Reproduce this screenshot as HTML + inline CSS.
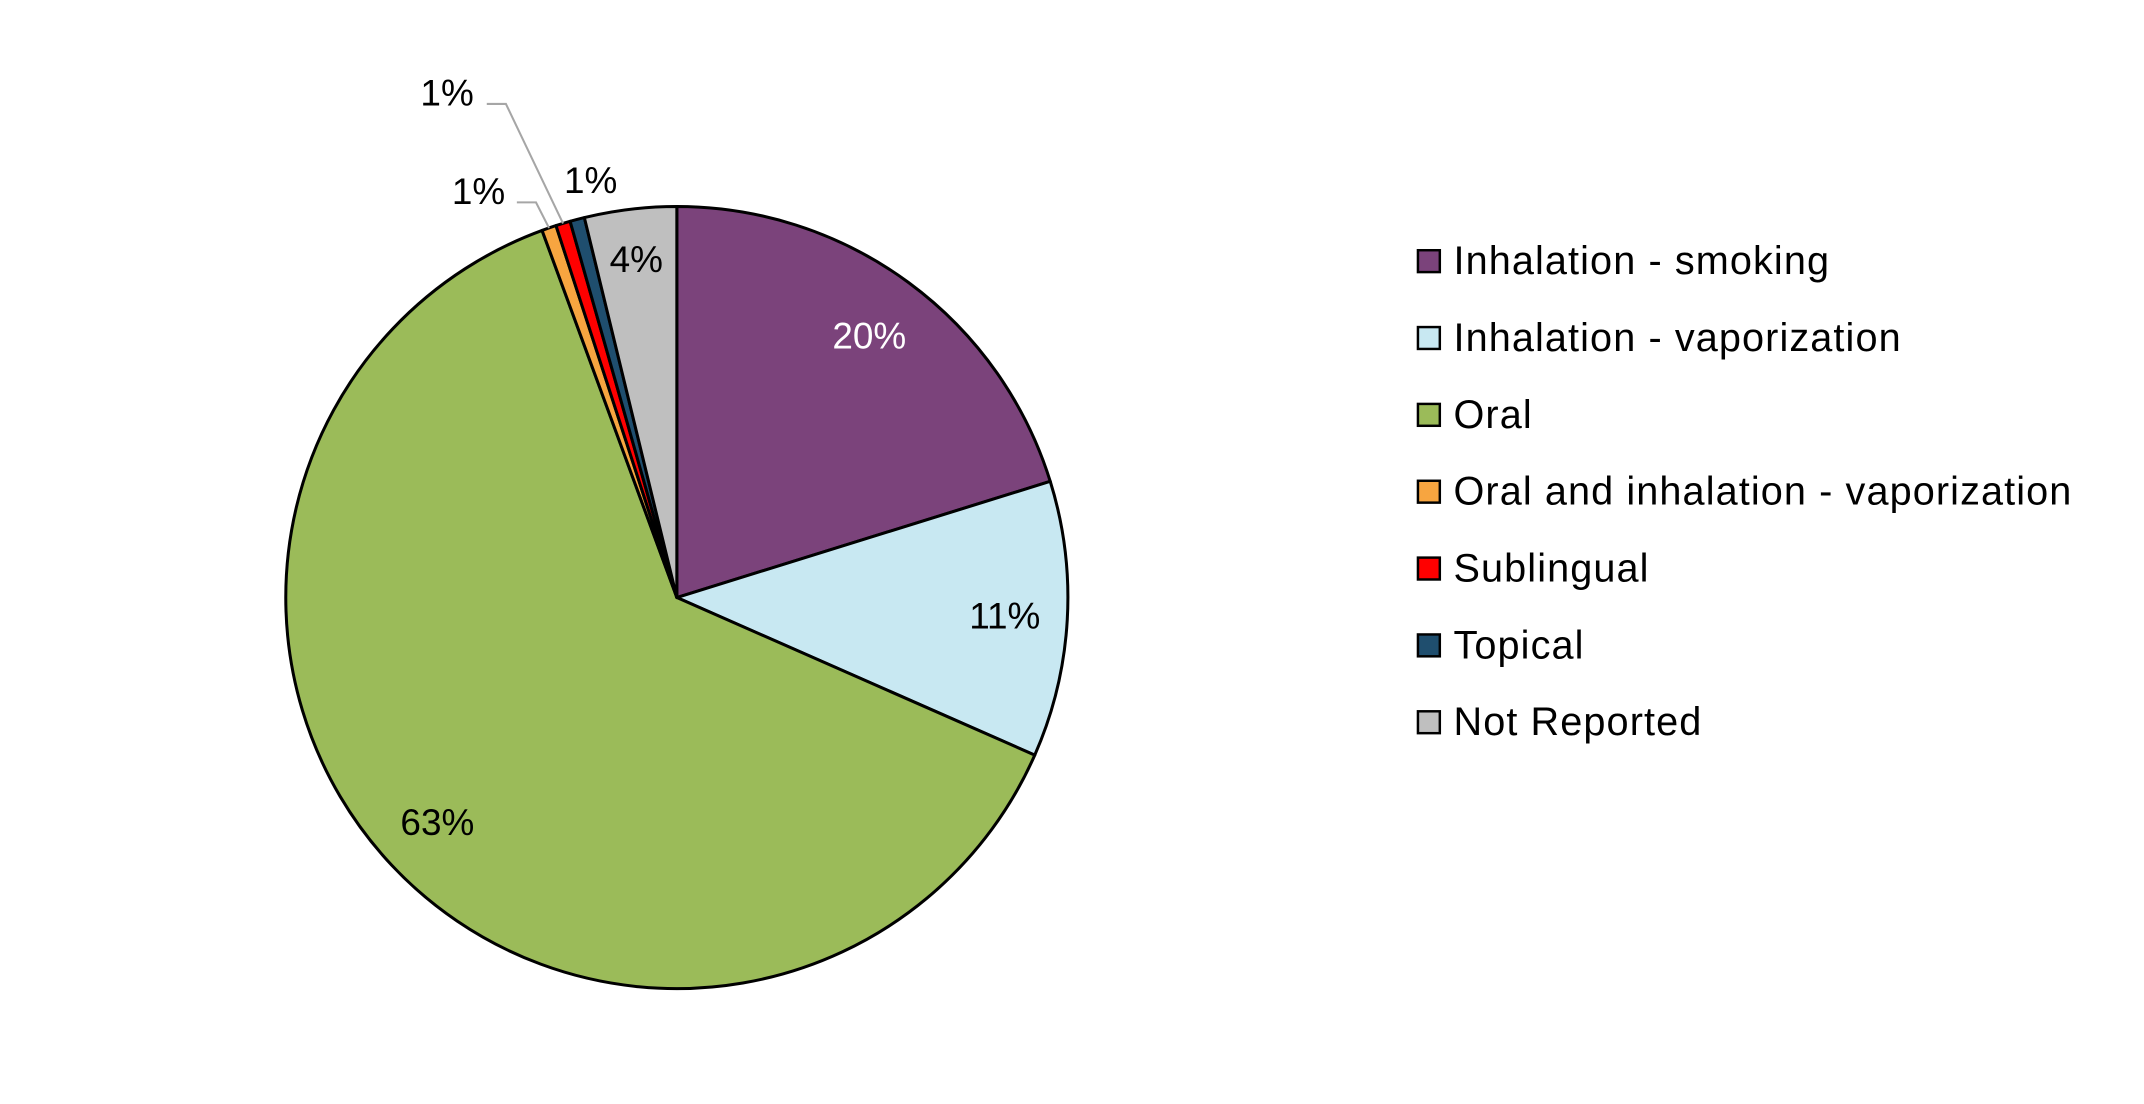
<!DOCTYPE html>
<html><head><meta charset="utf-8"><style>
html,body{margin:0;padding:0;background:#fff;}
svg{display:block;font-family:"Liberation Sans",Calibri,sans-serif;}
</style></head><body>
<svg id="chart" width="2144" height="1104" viewBox="0 0 1568 807.4" preserveAspectRatio="none" xmlns="http://www.w3.org/2000/svg">
<g id="slices"></g>
<g id="labels"></g>
<g id="legend"></g>
</svg>
<script>
const categories = ["Inhalation - smoking","Inhalation - vaporization","Oral","Oral and inhalation - vaporization","Sublingual","Topical","Not Reported"];
const values = [20.2, 11.4, 62.8, 0.6, 0.6, 0.6, 3.8];
const valueLabels = ["20%","11%","63%","1%","1%","1%","4%"];
const colors = ["#7b437b","#c8e8f2","#9bbb59","#f7a540","#ff0000","#1f4e6e","#bfbfbf"];

const NS="http://www.w3.org/2000/svg";
const cx=495, cy=437, r=286;
const total=values.reduce((a,b)=>a+b,0);
function pt(frac, rad){const a=frac*2*Math.PI; return [cx+rad*Math.sin(a), cy-rad*Math.cos(a)];}
const sg=document.getElementById('slices'), lg=document.getElementById('labels'), leg=document.getElementById('legend');
let acc=0;
const mids=[];
values.forEach((v,i)=>{
  const s=acc/total, e=(acc+v)/total; acc+=v;
  mids.push((s+e)/2);
  const p1=pt(s,r), p2=pt(e,r);
  const large=(e-s)>0.5?1:0;
  const p=document.createElementNS(NS,'path');
  p.setAttribute('d',`M${cx},${cy} L${p1[0]},${p1[1]} A${r},${r} 0 ${large} 1 ${p2[0]},${p2[1]} Z`);
  p.setAttribute('fill',colors[i]);p.setAttribute('stroke','#000');p.setAttribute('stroke-width','2.2');p.setAttribute('stroke-linejoin','round');
  
  
  sg.appendChild(p);
});
function addText(x,y,t,fill,i){
  const tx=document.createElementNS(NS,'text');
  tx.setAttribute('x',x);tx.setAttribute('y',y);tx.setAttribute('text-anchor','middle');tx.setAttribute('dominant-baseline','central');
  tx.setAttribute('font-size','27');tx.setAttribute('fill',fill);tx.textContent=t;
  
  
  lg.appendChild(tx);
}
const radF=[0.83,0.84,0.84,0,0,0,0.87];
[0,1,2,6].forEach(i=>{const p=pt(mids[i],r*radF[i]);addText(p[0],p[1],valueLabels[i],i==0?'#fff':'#000',i);});
function leader(d,i){const l=document.createElementNS(NS,'polyline');l.setAttribute('points',d);l.setAttribute('fill','none');l.setAttribute('stroke','#a6a6a6');l.setAttribute('stroke-width','1.5');
  
  
  lg.appendChild(l);}
const po=pt(mids[3],r), pr=pt(mids[4],r);
addText(350,140,valueLabels[3],'#000',3); leader(`378,148 392,148 ${po[0]},${po[1]}`,3);
addText(327,68,valueLabels[4],'#000',4); leader(`356,76 370,76 ${pr[0]},${pr[1]}`,4);
addText(432,132,valueLabels[5],'#000',5);
categories.forEach((c,i)=>{
  const y=191+56.2*i;
  const g=document.createElementNS(NS,'g');
  
  
  const rc=document.createElementNS(NS,'rect');
  rc.setAttribute('x',1037);rc.setAttribute('y',y-8);rc.setAttribute('width',16);rc.setAttribute('height',16);
  rc.setAttribute('fill',colors[i]);rc.setAttribute('stroke','#000');rc.setAttribute('stroke-width','1.8');
  
  
  const t=document.createElementNS(NS,'text');
  t.setAttribute('x',1063);t.setAttribute('y',y);t.setAttribute('dominant-baseline','central');t.setAttribute('font-size','29');t.setAttribute('letter-spacing','0.8');t.setAttribute('fill','#000');
  t.textContent=c;
  
  
  g.appendChild(rc);g.appendChild(t);leg.appendChild(g);
});
</script>
</body></html>
